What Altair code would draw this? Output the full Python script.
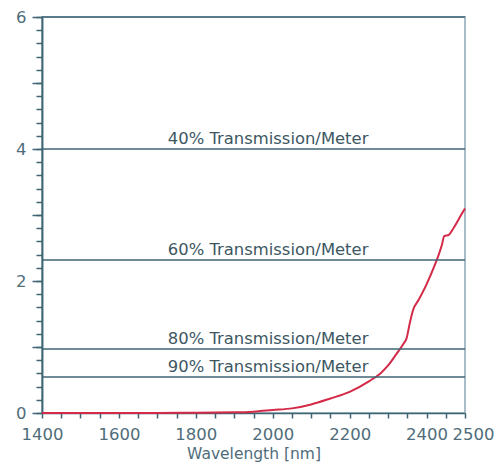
import altair as alt
import pandas as pd

# Curve data (wavelength nm, attenuation)
wavelength = [1400, 1500, 1600, 1700, 1800, 1900, 1950, 2000, 2050, 2100, 2150, 2200,
              2250, 2280, 2300, 2320, 2340, 2348, 2356, 2365, 2380, 2400, 2420, 2440,
              2446, 2458, 2470, 2485, 2500]
attenuation = [0.0, 0.0, 0.0, 0.0, 0.005, 0.01, 0.02, 0.045, 0.07, 0.13, 0.22, 0.32,
               0.48, 0.6, 0.72, 0.88, 1.05, 1.13, 1.35, 1.56, 1.72, 1.95, 2.22, 2.55,
               2.68, 2.7, 2.8, 2.95, 3.1]

# Reference transmission levels
level_labels = ["40% Transmission/Meter", "60% Transmission/Meter",
                "80% Transmission/Meter", "90% Transmission/Meter"]
level_values = [4.0, 2.32, 0.97, 0.545]
label_x = [1988, 1988, 1988, 1988]

x_ticks = list(range(1400, 2501, 50))
x_labels = [1400, 1600, 1800, 2000, 2200, 2400, 2500]
y_minor = [round(i * 0.2, 1) for i in range(31)]
y_major = [0, 1, 2, 3, 4, 5, 6]
top_value = [6]

curve_df = pd.DataFrame({"wl": wavelength, "att": attenuation})
levels_df = pd.DataFrame({"label": level_labels, "y": level_values, "x": label_x})
top_df = pd.DataFrame({"y": top_value})

AX = "#3f6573"
LAB = "#4f6d7a"
FONT = "DejaVu Sans"

xscale = alt.Scale(domain=[1400, 2500], nice=False, zero=False)
yscale = alt.Scale(domain=[0, 6], nice=False)

x_label_expr = "indexof([" + ",".join(str(v) for v in x_labels) + "], datum.value) >= 0 ? datum.value : ''"

x_axis = alt.Axis(values=x_ticks, labelExpr=x_label_expr, tickSize=5, grid=False,
                  domainColor=AX, tickColor=AX, domainWidth=1.5, tickWidth=1.5,
                  labelColor=LAB, labelFontSize=16.5, labelFont=FONT, labelPadding=8,
                  titleColor=LAB, titleFontSize=15.5, titleFont=FONT, titleFontWeight="normal",
                  titlePadding=4, labelOverlap=False, labelFlush=False, labelBound=False,
                  labelOffset={"condition": {"test": "datum.value == 2500", "value": 8}, "value": 0})

curve = alt.Chart(curve_df).mark_line(color="#d42a48", strokeWidth=2, interpolate="monotone").encode(
    x=alt.X("wl:Q", scale=xscale, title="Wavelength [nm]", axis=x_axis),
    y=alt.Y("att:Q", scale=yscale, title=None,
            axis=alt.Axis(values=y_minor, labels=False, tickSize=6, grid=False,
                          domainColor=AX, tickColor=AX, domainWidth=1.5, tickWidth=1.5, orient="left")),
)

hlines = alt.Chart(levels_df).mark_rule(color=AX, strokeWidth=1.5).encode(
    y=alt.Y("y:Q", scale=yscale, title=None,
            axis=alt.Axis(values=y_major, tickSize=10, grid=False,
                          labelExpr="datum.value % 2 == 0 ? datum.value : ''",
                          domainColor=AX, tickColor=AX, domainWidth=1.5, tickWidth=1.5,
                          labelColor=LAB, labelFontSize=16.5, labelFont=FONT, labelPadding=6,
                          orient="left")),
)

top_line = alt.Chart(top_df).mark_rule(color=AX, strokeWidth=1.5).encode(
    y=alt.Y("y:Q", scale=yscale, axis=None),
)

texts = alt.Chart(levels_df).mark_text(
    align="center", baseline="bottom", dy=-2, fontSize=16.4, font=FONT, color="#3d5763"
).encode(
    x=alt.X("x:Q", scale=xscale, title="Wavelength [nm]", axis=x_axis),
    y=alt.Y("y:Q", scale=yscale, axis=None),
    text="label:N",
)

chart = alt.layer(curve, hlines, top_line, texts).resolve_axis(y="independent").properties(
    width=423, height=396,
    autosize=alt.AutoSizeParams(type="none"),
    padding={"left": 34, "top": 9, "right": 30, "bottom": 54},
).configure_view(stroke="#a9bcc7", strokeWidth=2)

chart.save("out.html", embed_options={"renderer": "svg", "actions": False})
